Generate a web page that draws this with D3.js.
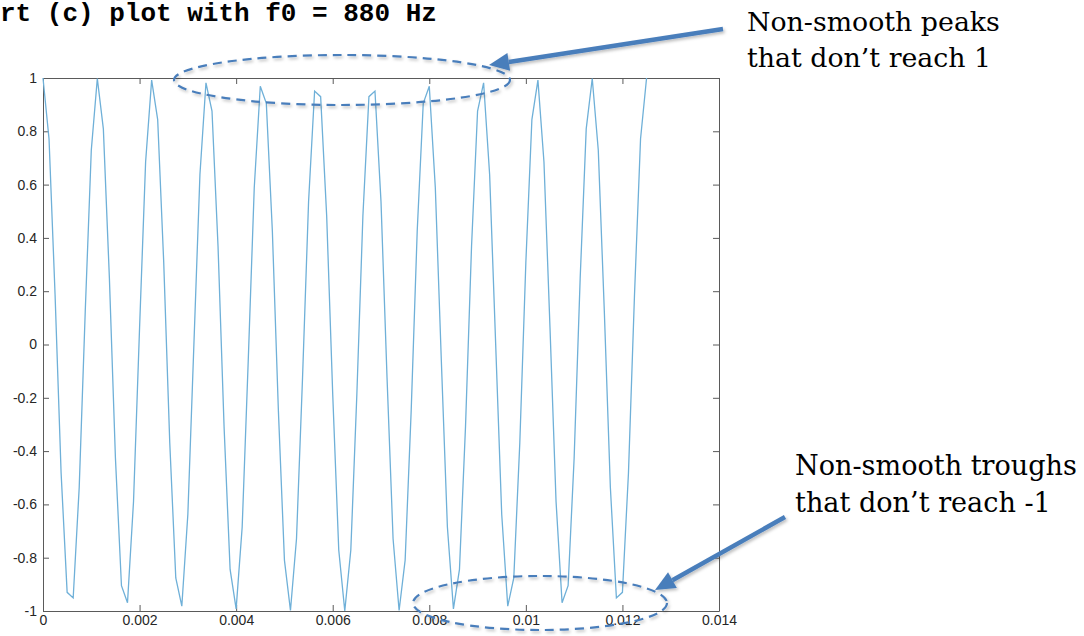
<!DOCTYPE html>
<html>
<head>
<meta charset="utf-8">
<script src="https://cdn.jsdelivr.net/npm/d3@7"></script>
<style>
  body { margin: 0; background: #fff; }
  svg { display: block; }
</style>
</head>
<body>
<div id="chart"></div>
<script>
// samples of the 880 Hz tone, fs = 8000 Hz
var sampleRate = 8000;
var samples = [
  1, 0.771, 0.187, -0.482, -0.930, -0.951, -0.536, 0.125, 0.729, 0.998,
  0.809, 0.249, -0.426, -0.905, -0.969, -0.588, 0.063, 0.685, 0.992, 0.844,
  0.309, -0.368, -0.876, -0.982, -0.637, 0, 0.637, 0.982, 0.876, 0.368,
  -0.309, -0.844, -0.992, -0.685, -0.063, 0.588, 0.969, 0.905, 0.426, -0.249,
  -0.809, -0.998, -0.729, -0.125, 0.536, 0.951, 0.930, 0.482, -0.187, -0.771,
  -1, -0.771, -0.187, 0.482, 0.930, 0.951, 0.536, -0.125, -0.729, -0.998,
  -0.809, -0.249, 0.426, 0.905, 0.969, 0.588, -0.063, -0.685, -0.992, -0.844,
  -0.309, 0.368, 0.876, 0.982, 0.637, 0, -0.637, -0.982, -0.876, -0.368,
  0.309, 0.844, 0.992, 0.685, 0.063, -0.588, -0.969, -0.905, -0.426, 0.249,
  0.809, 0.998, 0.729, 0.125, -0.536, -0.951, -0.930, -0.482, 0.187, 0.771,
  1
];
var xTicks = [0, 0.002, 0.004, 0.006, 0.008, 0.01, 0.012, 0.014];
var xTickLabels = ["0", "0.002", "0.004", "0.006", "0.008", "0.01", "0.012", "0.014"];
var yTicks = [-1, -0.8, -0.6, -0.4, -0.2, 0, 0.2, 0.4, 0.6, 0.8, 1];
var yTickLabels = ["-1", "-0.8", "-0.6", "-0.4", "-0.2", "0", "0.2", "0.4", "0.6", "0.8", "1"];
var titleText = "rt (c) plot with f0 = 880 Hz";
var peakNote = ["Non-smooth peaks", "that don\u2019t reach 1"];
var troughNote = ["Non-smooth troughs", "that don\u2019t reach -1"];

var W = 1084, H = 636;
var margin = {top: 78, right: 365, bottom: 25, left: 43},
    width = W - margin.left - margin.right,
    height = H - margin.top - margin.bottom;

var svg = d3.select("#chart").append("svg")
  .attr("width", W)
  .attr("height", H);

var defs = svg.append("defs");
var shadow = defs.append("filter").attr("id", "shadow")
  .attr("x", "-20%").attr("y", "-20%").attr("width", "140%").attr("height", "140%");
shadow.append("feDropShadow")
  .attr("dx", 1.5).attr("dy", 2).attr("stdDeviation", 1.5)
  .attr("flood-color", "#000").attr("flood-opacity", 0.25);

// title (cut off on the left like the original figure)
svg.append("text")
  .attr("x", 0)
  .attr("y", 21)
  .style("font", "bold 26px 'Courier New', 'Liberation Mono', monospace")
  .attr("fill", "#000")
  .text(titleText);

var g = svg.append("g")
  .attr("transform", "translate(" + margin.left + "," + margin.top + ")");

var x = d3.scaleLinear().domain([0, 0.014]).range([0, width]);
var y = d3.scaleLinear().domain([-1, 1]).range([height, 0]);

var axisColor = "#5a5a5a";
var labelFont = "14px 'Liberation Sans', Arial, Helvetica, sans-serif";

function styleAxis(sel) {
  sel.select(".domain").attr("stroke", axisColor).attr("stroke-width", 1);
  sel.selectAll(".tick line").attr("stroke", axisColor);
  sel.selectAll(".tick text").attr("fill", "#262626").style("font", labelFont);
}

g.append("g")
  .attr("transform", "translate(0," + height + ")")
  .call(d3.axisBottom(x).tickValues(xTicks)
    .tickFormat(function(d, i) { return xTickLabels[i]; })
    .tickSize(-6).tickSizeOuter(0).tickPadding(4))
  .call(styleAxis);

g.append("g")
  .call(d3.axisTop(x).tickValues(xTicks).tickFormat("")
    .tickSize(-6).tickSizeOuter(0))
  .call(styleAxis);

g.append("g")
  .call(d3.axisLeft(y).tickValues(yTicks)
    .tickFormat(function(d, i) { return yTickLabels[i]; })
    .tickSize(-6).tickSizeOuter(0).tickPadding(6))
  .call(styleAxis);

g.append("g")
  .attr("transform", "translate(" + width + ",0)")
  .call(d3.axisRight(y).tickValues(yTicks).tickFormat("")
    .tickSize(-6).tickSizeOuter(0))
  .call(styleAxis);

// the sampled waveform
g.append("path")
  .datum(samples)
  .attr("fill", "none")
  .attr("stroke", "#6fb0d8")
  .attr("stroke-width", 1.3)
  .attr("stroke-linejoin", "miter")
  .attr("d", d3.line()
    .x(function(d, i) { return x(i / sampleRate); })
    .y(function(d) { return y(d); }));

// annotations
var noteBlue = "#4a7ebb";

function ellipse(cx, cy, rx, ry) {
  svg.append("ellipse")
    .attr("cx", cx).attr("cy", cy).attr("rx", rx).attr("ry", ry)
    .attr("fill", "none")
    .attr("stroke", noteBlue)
    .attr("stroke-width", 2.2)
    .attr("stroke-dasharray", "9,6")
    .attr("filter", "url(#shadow)");
}

function arrow(x1, y1, x2, y2) {
  var ang = Math.atan2(y2 - y1, x2 - x1);
  var len = 20, half = 9;
  var bx = x2 - len * Math.cos(ang), by = y2 - len * Math.sin(ang);
  var grp = svg.append("g").attr("filter", "url(#shadow)");
  grp.append("line")
    .attr("x1", x1).attr("y1", y1).attr("x2", bx).attr("y2", by)
    .attr("stroke", noteBlue).attr("stroke-width", 4.5);
  grp.append("path")
    .attr("d", d3.line()([
      [x2, y2],
      [bx + half * Math.sin(ang), by - half * Math.cos(ang)],
      [bx - half * Math.sin(ang), by + half * Math.cos(ang)]
    ]) + "Z")
    .attr("fill", noteBlue);
}

function note(lines, x0, y0, lineGap, targetWidth) {
  var t = svg.append("text")
    .style("font-family", "'DejaVu Serif', 'Liberation Serif', serif")
    .style("font-size", "26px")
    .attr("fill", "#000");
  lines.forEach(function(s, i) {
    t.append("tspan").attr("x", x0).attr("y", y0 + i * lineGap).text(s);
  });
  var w = t.select("tspan").node().getComputedTextLength();
  t.style("font-size", (26 * targetWidth / w) + "px");
}

ellipse(342, 80, 168, 25);
ellipse(540, 603, 127, 27);
arrow(723, 29, 489, 65);
arrow(785, 517, 655, 590);

note(peakNote, 747, 31, 36, 253);
note(troughNote, 795, 475, 37, 282);
</script>
</body>
</html>
